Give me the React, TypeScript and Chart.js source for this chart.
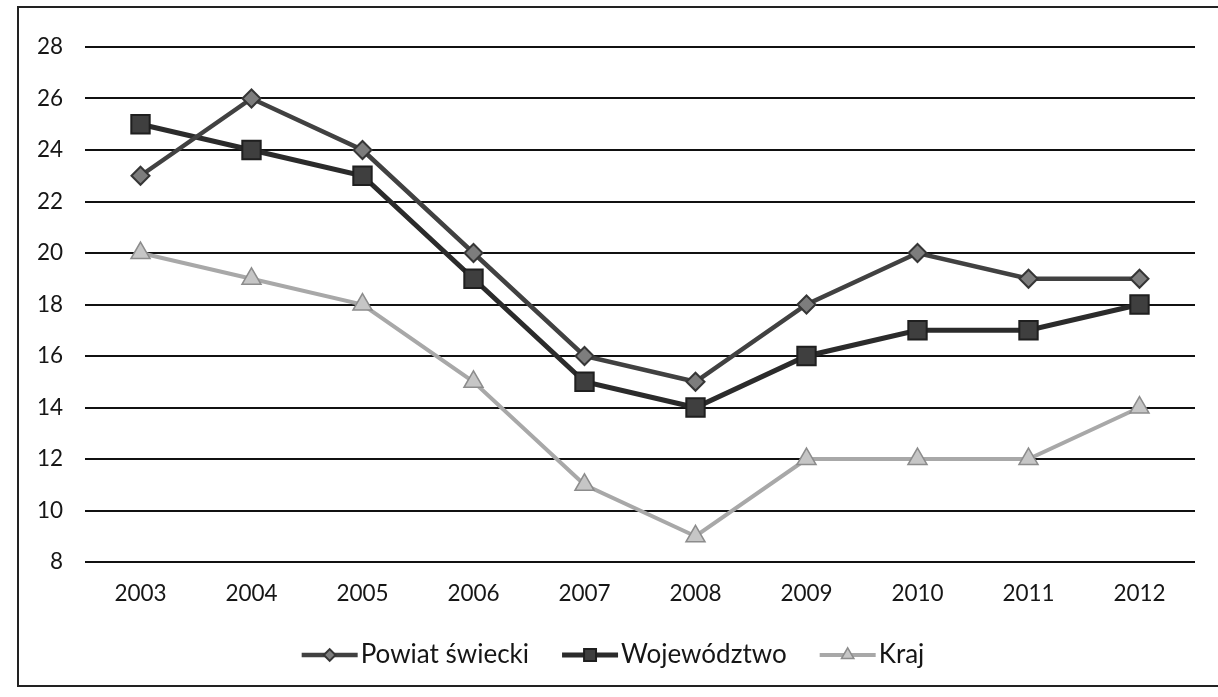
import React, { useEffect, useRef } from "react";
import { Chart, registerables } from "chart.js";
import { drawPoint } from "chart.js/helpers";

Chart.register(...registerables);

// ---- data ----
const years = ["2003", "2004", "2005", "2006", "2007", "2008", "2009", "2010", "2011", "2012"];
const powiatSwiecki = [23, 26, 24, 20, 16, 15, 18, 20, 19, 19];
const wojewodztwo = [25, 24, 23, 19, 15, 14, 16, 17, 17, 18];
const kraj = [20, 19, 18, 15, 11, 9, 12, 12, 12, 14];
const seriesNames = ["Powiat świecki", "Województwo", "Kraj"];
const yMin = 8;
const yMax = 28;
const yStep = 2;

// ---- style / layout ----
const FONT = "Lato, 'Open Sans', sans-serif";
const TEXT_COLOR = "#161616";
const TICK_FONT_SIZE = 22.5;
const LEGEND_FONT_SIZE = 26;
const LEGEND_CENTER_X = 613;
const LEGEND_Y = 655;
const SAMPLE_W = 56;
const ITEM_GAP = 33;

const lineLegend = {
  id: "lineLegend",
  afterDraw(chart: any) {
    const ctx = chart.ctx as CanvasRenderingContext2D;
    ctx.save();
    ctx.font = `${LEGEND_FONT_SIZE}px ${FONT}`;
    const items = chart.data.datasets.map((ds: any) => ({ ds, w: ctx.measureText(ds.label).width }));
    const total =
      items.reduce((s: number, it: any) => s + SAMPLE_W + 3 + it.w, 0) + ITEM_GAP * (items.length - 1);
    let x = LEGEND_CENTER_X - total / 2;
    const y = LEGEND_Y;
    items.forEach(({ ds, w }: any) => {
      ctx.strokeStyle = ds.borderColor;
      ctx.lineWidth = ds.borderWidth;
      ctx.beginPath();
      ctx.moveTo(x, y);
      ctx.lineTo(x + SAMPLE_W, y);
      ctx.stroke();
      ctx.fillStyle = ds.pointBackgroundColor;
      ctx.strokeStyle = ds.pointBorderColor;
      ctx.lineWidth = ds.pointBorderWidth;
      drawPoint(
        ctx,
        { pointStyle: ds.pointStyle, radius: ds.pointRadius * 0.65, borderWidth: ds.pointBorderWidth, rotation: 0 } as any,
        x + SAMPLE_W / 2,
        y
      );
      ctx.fillStyle = TEXT_COLOR;
      ctx.textAlign = "left";
      ctx.textBaseline = "middle";
      ctx.fillText(ds.label, x + SAMPLE_W + 3, y);
      x += SAMPLE_W + 3 + w + ITEM_GAP;
    });
    ctx.restore();
  },
};

export default function App() {
  const canvasRef = useRef<HTMLCanvasElement | null>(null);

  useEffect(() => {
    if (!canvasRef.current) return;
    const chart = new Chart(canvasRef.current, {
      type: "line",
      data: {
        labels: years,
        datasets: [
          {
            label: seriesNames[0],
            data: powiatSwiecki,
            borderColor: "#414141",
            borderWidth: 4.5,
            pointStyle: "rectRot",
            pointRadius: 9,
            pointBackgroundColor: "#7d7d7d",
            pointBorderColor: "#363636",
            pointBorderWidth: 2,
            tension: 0,
            clip: false,
          },
          {
            label: seriesNames[1],
            data: wojewodztwo,
            borderColor: "#2b2b2b",
            borderWidth: 5,
            pointStyle: "rect",
            pointRadius: 13,
            pointBackgroundColor: "#3f3f3f",
            pointBorderColor: "#1f1f1f",
            pointBorderWidth: 2,
            tension: 0,
            clip: false,
          },
          {
            label: seriesNames[2],
            data: kraj,
            borderColor: "#a8a8a8",
            borderWidth: 4,
            pointStyle: "triangle",
            pointRadius: 11,
            pointBackgroundColor: "#c6c6c6",
            pointBorderColor: "#8c8c8c",
            pointBorderWidth: 1.5,
            tension: 0,
            clip: false,
          },
        ] as any,
      },
      options: {
        responsive: false,
        animation: false,
        layout: { padding: { left: 0, top: 47, right: 23, bottom: 85 } },
        plugins: {
          legend: { display: false },
          tooltip: { enabled: false },
        },
        scales: {
          x: {
            offset: true,
            grid: { display: false, drawTicks: false },
            border: { display: false },
            ticks: {
              padding: 18,
              color: TEXT_COLOR,
              font: { family: FONT, size: TICK_FONT_SIZE },
              maxRotation: 0,
            },
            afterFit(scale: any) {
              scale.height = 50;
            },
          },
          y: {
            min: yMin,
            max: yMax,
            grid: { color: "#111111", lineWidth: 2, drawTicks: false },
            border: { display: false },
            ticks: {
              stepSize: yStep,
              padding: 22,
              color: TEXT_COLOR,
              font: { family: FONT, size: TICK_FONT_SIZE },
            },
            afterFit(scale: any) {
              scale.width = 85;
            },
          },
        },
      } as any,
      plugins: [lineLegend],
    });
    return () => chart.destroy();
  }, []);

  return (
    <div
      style={{
        position: "fixed",
        left: 0,
        top: 0,
        width: 1218,
        height: 697,
        background: "#ffffff",
        overflow: "hidden",
      }}
    >
      <div
        style={{
          position: "absolute",
          left: 17,
          top: 6,
          width: 1260,
          height: 677,
          borderTop: "2px solid #222",
          borderLeft: "2px solid #222",
          borderBottom: "2px solid #222",
        }}
      />
      <canvas
        ref={canvasRef}
        width={1218}
        height={697}
        style={{ position: "absolute", left: 0, top: 0, width: 1218, height: 697 }}
      />
    </div>
  );
}
